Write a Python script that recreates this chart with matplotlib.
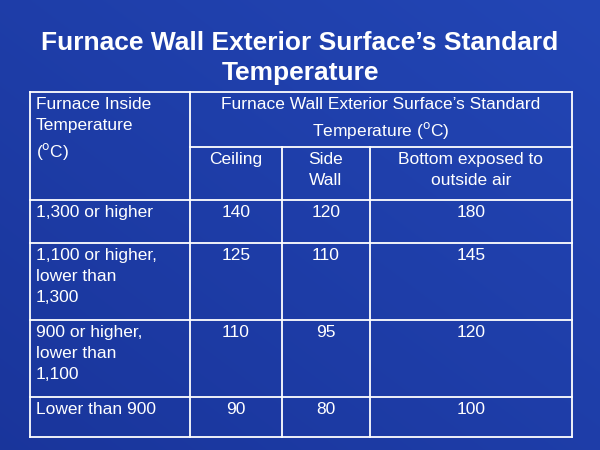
import matplotlib
matplotlib.use("Agg")
import matplotlib.pyplot as plt
import numpy as np

plt.rcParams['font.family'] = ['Liberation Sans', 'DejaVu Sans']

title = "Furnace Wall Exterior Surface\u2019s Standard\nTemperature"
header_left = "Furnace Inside\nTemperature\n($^\\mathrm{o}$C)"
header_span = "Furnace Wall Exterior Surface\u2019s Standard\nTemperature ($^\\mathrm{o}$C)"
sub_headers = ["Ceiling", "Side\nWall", "Bottom exposed to\noutside air"]
row_labels = ["1,300 or higher", "1,100 or higher,\nlower than\n1,300",
              "900 or higher,\nlower than\n1,100", "Lower than 900"]
ceiling = [140, 125, 110, 90]
side_wall = [120, 110, 95, 80]
bottom = [180, 145, 120, 100]

fig = plt.figure(figsize=(6, 4.5), dpi=100)
ax = fig.add_axes([0, 0, 1, 1])
ax.set_xlim(0, 600); ax.set_ylim(450, 0); ax.axis('off')

# background gradient
yy, xx = np.mgrid[0:450, 0:600]
t = np.clip(0.5 + 0.25 * (xx / 600) + 0.25 * (1 - yy / 450) - 0.2, 0, 1)[..., None]
c0 = np.array([0.08, 0.17, 0.55]); c1 = np.array([0.15, 0.30, 0.75])
img = c0 * (1 - t) + c1 * t
ax.imshow(img, extent=[0, 600, 450, 0], aspect='auto', zorder=0)

ax.text(300, 58, title, ha='center', va='center', color='white',
        fontsize=19, fontweight='bold', linespacing=1.3)

xs = [30, 190, 282, 370, 572]
ys = [92, 147, 200, 243, 320, 397, 437]
lw = 1.3
for y in [92, 200, 243, 320, 397, 437]:
    ax.plot([30, 572], [y, y], color='white', lw=lw)
ax.plot([190, 572], [147, 147], color='white', lw=lw)
for x in [30, 190, 572]:
    ax.plot([x, x], [92, 437], color='white', lw=lw)
for x in [282, 370]:
    ax.plot([x, x], [147, 437], color='white', lw=lw)

fs = 12.5
kw = dict(color='white', fontsize=fs, va='top', linespacing=1.5)
ax.text(36, 97, header_left, ha='left', **kw)
ax.text(381, 97, header_span, ha='center', multialignment='center', **kw)
for i, s in enumerate(sub_headers):
    ax.text((xs[i+1] + xs[i+2]) / 2, 152, s, ha='center', multialignment='center', **kw)
for r, lab in enumerate(row_labels):
    y0 = ys[r + 2] + 5
    ax.text(36, y0, lab, ha='left', **kw)
    for c, v in enumerate([ceiling[r], side_wall[r], bottom[r]]):
        ax.text((xs[c+1] + xs[c+2]) / 2, y0, str(v), ha='center', **kw)

fig.savefig("out.png", dpi=100)
